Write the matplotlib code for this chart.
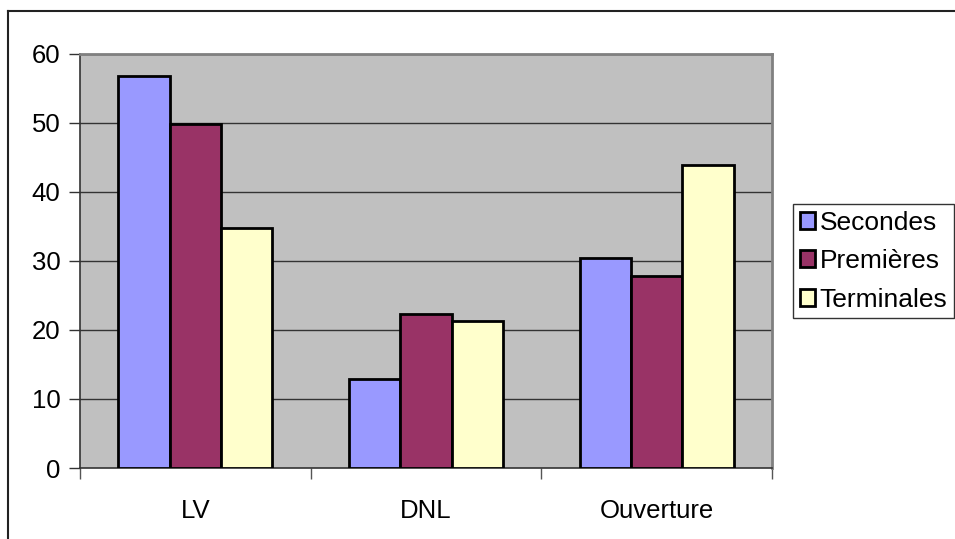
import numpy as np
import matplotlib.pyplot as plt
from matplotlib.lines import Line2D

plt.rcParams['font.family'] = ['Liberation Sans', 'DejaVu Sans']

categories = ["LV", "DNL", "Ouverture"]
series = ["Secondes", "Premières", "Terminales"]
secondes = [56.7, 12.9, 30.4]
premieres = [49.8, 22.3, 27.8]
terminales = [34.8, 21.3, 43.9]
values = [secondes, premieres, terminales]
colors = ["#9999FF", "#993366", "#FFFFCC"]
yticks = [0, 10, 20, 30, 40, 50, 60]

fig = plt.figure(figsize=(9.55, 5.39), dpi=100)
ax = fig.add_axes([0.0838, 0.1317, 0.7246, 0.7690])
ax.set_facecolor("#C0C0C0")

# chart area border (left and top edges visible)
fig.add_artist(Line2D([8 / 955, 8 / 955], [0, 1 - 11 / 539], transform=fig.transFigure,
                      color="#222222", lw=1.5))
fig.add_artist(Line2D([8 / 955, 1], [1 - 11 / 539, 1 - 11 / 539], transform=fig.transFigure,
                      color="#222222", lw=1.5))

x = np.arange(len(categories))
w = 1 / 4.5
for i, (vals, c) in enumerate(zip(values, colors)):
    ax.bar(x + (i - 1) * w, vals, width=w, color=c, edgecolor="black", linewidth=2,
           label=series[i], zorder=3)

for t in yticks[1:]:
    ax.axhline(t, color="#333333", lw=1, zorder=1)

ax.set_xlim(-0.5, 2.5)
ax.set_ylim(0, 60)
ax.set_yticks(yticks)
ax.set_yticklabels([str(t) for t in yticks], fontsize=18.5)
ax.tick_params(axis="y", direction="out", length=8, width=1, color="#333333", pad=6)

# category labels between boundary ticks
ax.set_xticks(x)
ax.set_xticklabels(categories, fontsize=18.5)
ax.tick_params(axis="x", length=0, pad=22)
ax.set_xticks([-0.5, 0.5, 1.5, 2.5], minor=True)
ax.tick_params(axis="x", which="minor", direction="out", length=8, width=1, color="#555555")

for s in ["left", "bottom"]:
    ax.spines[s].set_color("#333333")
    ax.spines[s].set_linewidth(1.2)
for s in ["top", "right"]:
    ax.spines[s].set_color("#808080")
    ax.spines[s].set_linewidth(2)

leg = fig.legend(loc="upper left", bbox_to_anchor=(793 / 955, 1 - 204 / 539),
                 fontsize=19, frameon=True, fancybox=False, edgecolor="black",
                 handlelength=0.6, handleheight=0.6, handletextpad=0.15,
                 borderpad=0.25, labelspacing=0.55, borderaxespad=0)
leg.get_frame().set_linewidth(1)

fig.savefig("out.png", dpi=100)
